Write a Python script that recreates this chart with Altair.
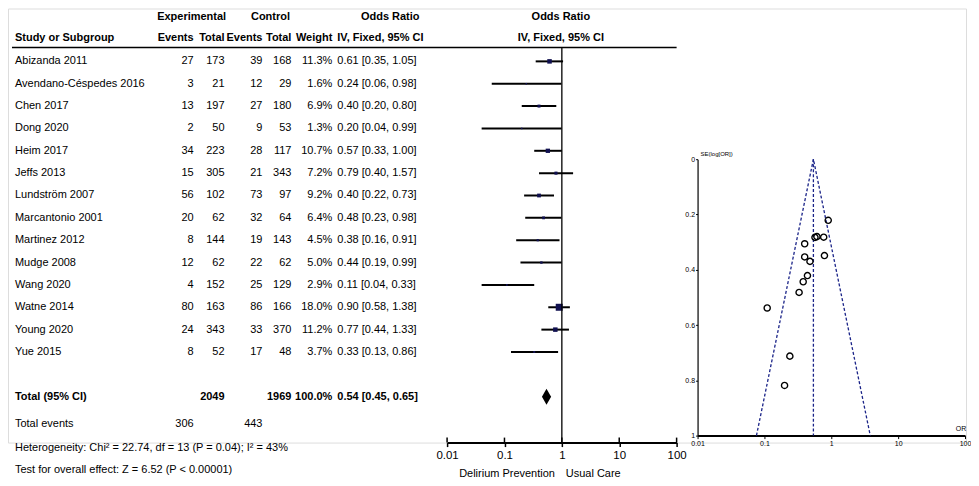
import altair as alt
import pandas as pd
import math

# ---------------- data ----------------
studies = ["Abizanda 2011", "Avendano-Céspedes 2016", "Chen 2017", "Dong 2020", "Heim 2017",
           "Jeffs 2013", "Lundström 2007", "Marcantonio 2001", "Martinez 2012", "Mudge 2008",
           "Wang 2020", "Watne 2014", "Young 2020", "Yue 2015"]
exp_events = [27, 3, 13, 2, 34, 15, 56, 20, 8, 12, 4, 80, 24, 8]
exp_total = [173, 21, 197, 50, 223, 305, 102, 62, 144, 62, 152, 163, 343, 52]
ctl_events = [39, 12, 27, 9, 28, 21, 73, 32, 19, 22, 25, 86, 33, 17]
ctl_total = [168, 29, 180, 53, 117, 343, 97, 64, 143, 62, 129, 166, 370, 48]
weights = [11.3, 1.6, 6.9, 1.3, 10.7, 7.2, 9.2, 6.4, 4.5, 5.0, 2.9, 18.0, 11.2, 3.7]
odds = [0.61, 0.24, 0.40, 0.20, 0.57, 0.79, 0.40, 0.48, 0.38, 0.44, 0.11, 0.90, 0.77, 0.33]
ci_lo = [0.35, 0.06, 0.20, 0.04, 0.33, 0.40, 0.22, 0.23, 0.16, 0.19, 0.04, 0.58, 0.44, 0.13]
ci_hi = [1.05, 0.98, 0.80, 0.99, 1.00, 1.57, 0.73, 0.98, 0.91, 0.99, 0.33, 1.38, 1.33, 0.86]

total_exp = 2049
total_ctl = 1969
total_weight = 100.0
pooled_or = 0.54
pooled_lo = 0.45
pooled_hi = 0.65
events_exp = 306
events_ctl = 443

heterogeneity = "Heterogeneity: Chi² = 22.74, df = 13 (P = 0.04); I² = 43%"
overall_test = "Test for overall effect: Z = 6.52 (P < 0.00001)"

or_ticks = [0.01, 0.1, 1, 10, 100]
se_ticks = [0, 0.2, 0.4, 0.6, 0.8, 1]
funnel_or = [0.076, 0.54, 3.83]   # funnel outline
funnel_se = [1, 0, 1]

# ---------------- styling ----------------
FONT = "Liberation Sans"
FS = 11
NAVY = "#1a2388"
SQ = "#101050"
DIAMOND_HALF = 0.36

n = len(studies)
df = pd.DataFrame({
    "row": list(range(n)),
    "study": studies,
    "ee": [str(v) for v in exp_events],
    "et": [str(v) for v in exp_total],
    "ce": [str(v) for v in ctl_events],
    "ct": [str(v) for v in ctl_total],
    "w": weights,
    "wt": [f"{v:.1f}%" for v in weights],
    "or": odds,
    "lo": ci_lo,
    "hi": ci_hi,
    "ort": [f"{o:.2f} [{l:.2f}, {h:.2f}]" for o, l, h in zip(odds, ci_lo, ci_hi)],
    "se": [(math.log(h) - math.log(l)) / (2 * 1.96) for l, h in zip(ci_lo, ci_hi)],
})
total_row = n + 1
tot = pd.DataFrame({
    "row": [total_row],
    "study": ["Total (95% CI)"],
    "et": [str(total_exp)],
    "ct": [str(total_ctl)],
    "wt": [f"{total_weight:.1f}%"],
    "ort": [f"{pooled_or:.2f} [{pooled_lo:.2f}, {pooled_hi:.2f}]"],
})
diamond = pd.DataFrame({
    "x": [pooled_lo, pooled_or, pooled_hi],
    "y": [total_row, total_row - DIAMOND_HALF, total_row],
    "y2": [total_row, total_row + DIAMOND_HALF, total_row],
})

ROW = alt.Scale(domain=[0, 15], range=[53, 389], nice=False, zero=False)


def yrow(field="row"):
    return alt.Y(f"{field}:Q", scale=ROW, axis=None)


def col(data, field, x, align="right", bold=False):
    return alt.Chart(data).mark_text(font=FONT, fontSize=FS, align=align, baseline="middle",
                                     color="black", fontWeight="bold" if bold else "normal").encode(
        x=alt.value(x), y=yrow(), text=f"{field}:N")


def label(txt, x, y, align="left", bold=False, size=FS):
    return alt.Chart(pd.DataFrame({"t": [txt]})).mark_text(
        font=FONT, fontSize=size, align=align, baseline="middle", color="black",
        fontWeight="bold" if bold else "normal").encode(x=alt.value(x), y=alt.value(y), text="t:N")


NAME_X = 7
EE_X, ET_X, CE_X, CT_X, W_X, OR_X = 186, 217, 255, 284, 325, 330
H1, H2, HL = 9, 30, 39

table = alt.layer(
    label("Experimental", 184, H1, "center", True),
    label("Control", 263, H1, "center", True),
    label("Odds Ratio", 383, H1, "center", True),
    label("Odds Ratio", 554, H1, "center", True),
    label("Study or Subgroup", NAME_X, H2, "left", True),
    label("Events", EE_X, H2, "right", True),
    label("Total", ET_X, H2, "right", True),
    label("Events", CE_X, H2, "right", True),
    label("Total", CT_X, H2, "right", True),
    label("Weight", W_X, H2, "right", True),
    label("IV, Fixed, 95% CI", OR_X, H2, "left", True),
    label("IV, Fixed, 95% CI", 554, H2, "center", True),
    alt.Chart(pd.DataFrame({"a": [0]})).mark_rule(color="black", strokeWidth=1.5).encode(
        x=alt.value(NAME_X - 3), x2=alt.value(670), y=alt.value(HL)),
    col(df, "study", NAME_X, "left"),
    col(df, "ee", EE_X),
    col(df, "et", ET_X),
    col(df, "ce", CE_X),
    col(df, "ct", CT_X),
    col(df, "wt", W_X),
    col(df, "ort", OR_X, "left"),
    col(tot, "study", NAME_X, "left", True),
    col(tot, "et", ET_X, "right", True),
    col(tot, "ct", CT_X, "right", True),
    col(tot, "wt", W_X, "right", True),
    col(tot, "ort", OR_X, "left", True),
    label("Total events", NAME_X, 416, "left"),
    label(str(events_exp), EE_X, 416, "right"),
    label(str(events_ctl), CE_X, 416, "right"),
    label(heterogeneity, NAME_X, 440, "left"),
    label(overall_test, NAME_X, 462, "left"),
    label("Delirium Prevention", 548, 466, "right"),
    label("Usual Care", 559, 466, "left"),
)

FX = alt.Scale(type="log", domain=[0.01, 100], range=[440, 670], nice=False)
forest_axis = alt.Axis(orient="bottom", values=or_ticks, format="~g", grid=False,
                       domainColor="black", domainWidth=2, tickColor="black", tickWidth=1.5,
                       tickSize=4, labelFont=FONT, labelFontSize=FS + 0.5, labelColor="black",
                       labelPadding=3, labelFlush=False, title=None)

forest = alt.layer(
    alt.Chart(df).mark_rule(color="black", strokeWidth=2).encode(
        x=alt.X("lo:Q", scale=FX, axis=forest_axis), x2="hi:Q", y=yrow()),
    alt.Chart(df).mark_square(color=SQ, opacity=1).encode(
        x=alt.X("or:Q", scale=FX), y=yrow(),
        size=alt.Size("w:Q", scale=alt.Scale(type="pow", exponent=2, domain=[0, 18], range=[2, 49]),
                      legend=None)),
    alt.Chart(diamond).mark_area(color="black", opacity=1, orient="vertical").encode(
        x=alt.X("x:Q", scale=FX), y=alt.Y("y:Q", scale=ROW, axis=None), y2="y2:Q"),
    alt.Chart(pd.DataFrame({"x": [1]})).mark_rule(color="black", strokeWidth=1.3).encode(
        x=alt.X("x:Q", scale=FX), y=alt.value(HL), y2=alt.value(435)),
    alt.Chart(pd.DataFrame({"t": or_ticks})).mark_rule(color="black", strokeWidth=1.5).encode(
        x=alt.X("t:Q", scale=FX), y=alt.value(430), y2=alt.value(435)),
)

FX2 = alt.Scale(type="log", domain=[0.01, 100], range=[691, 959], nice=False)
FY2 = alt.Scale(domain=[0, 1], range=[151, 428], nice=False, zero=False)
fun_xaxis = alt.Axis(orient="bottom", offset=-7, values=or_ticks, format="~g", grid=False,
                     domainColor="black", domainWidth=2, tickColor="black", tickSize=3,
                     labelFont=FONT, labelFontSize=7, labelColor="black", labelPadding=1,
                     labelFlush=False, title=None)
fun_yaxis = alt.Axis(orient="left", offset=-691, values=se_ticks, format="~g", grid=False,
                     domainColor="black", domainWidth=1.2, tickColor="black", tickSize=2,
                     labelFont=FONT, labelFontSize=7, labelColor="black", labelPadding=1,
                     labelFlush=False, title=None)
fdf = pd.DataFrame({"or": funnel_or, "se": funnel_se, "o": [0, 1, 2]})

funnel = alt.layer(
    alt.Chart(fdf).mark_line(color=NAVY, strokeDash=[3, 2], strokeWidth=1.3).encode(
        x=alt.X("or:Q", scale=FX2, axis=fun_xaxis), y=alt.Y("se:Q", scale=FY2, axis=fun_yaxis),
        order="o:Q"),
    alt.Chart(pd.DataFrame({"x": [pooled_or], "a": [0], "b": [1]})).mark_rule(
        color=NAVY, strokeDash=[3, 2], strokeWidth=1.3).encode(
        x=alt.X("x:Q", scale=FX2), y=alt.Y("a:Q", scale=FY2), y2="b:Q"),
    alt.Chart(df).mark_point(shape="circle", filled=False, color="black", size=38,
                             strokeWidth=1.4, opacity=1).encode(
        x=alt.X("or:Q", scale=FX2), y=alt.Y("se:Q", scale=FY2)),
    label("SE(log[OR])", 694, 146, "left", size=6),
    label("OR", 955, 421, "center", size=7),
)

chart = alt.layer(table, forest, funnel).resolve_scale(
    x="independent", y="independent", size="independent"
).properties(width=960, height=435, padding=0).configure_view(stroke=None).configure(background="white")

chart.save("out.html", embed_options={"renderer": "svg", "actions": False})
